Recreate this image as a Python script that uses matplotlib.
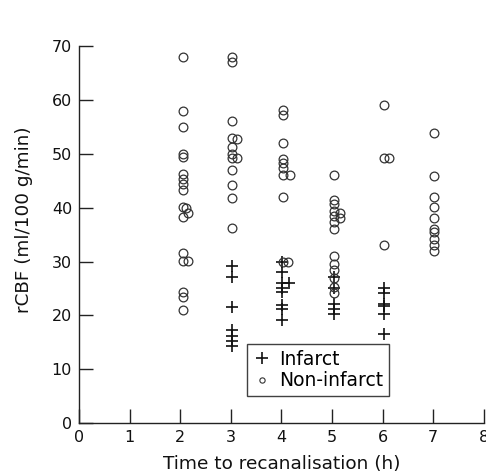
import matplotlib
matplotlib.use("Agg")
import matplotlib.pyplot as plt

plt.rcParams['font.family'] = ['DejaVu Sans']

# Infarct (+)
infarct_x = [3.03, 3.03, 3.03, 3.03, 3.03, 3.03, 3.03,
             4.01, 4.01, 4.01, 4.01, 4.01, 4.01, 4.01, 4.01, 4.15,
             5.04, 5.04, 5.04, 5.04, 5.04,
             6.02, 6.02, 6.02, 6.02, 6.02, 6.02]
infarct_y = [29.1, 27.1, 21.5, 17.3, 16.2, 15.3, 14.4,
             30.0, 28.1, 26.1, 25.1, 24.3, 21.9, 21.2, 19.2, 26.1,
             27.1, 25.1, 22.2, 21.2, 20.2,
             25.1, 24.1, 22.2, 21.7, 20.2, 16.5]

# Non-infarct (o)
noninf_x = [2.06, 2.06, 2.06, 2.06, 2.06, 2.06, 2.06, 2.06, 2.06,
            2.06, 2.12, 2.16, 2.06, 2.06, 2.06, 2.16, 2.06, 2.06, 2.06,
            3.02, 3.02, 3.02, 3.02, 3.13, 3.02, 3.02, 3.02, 3.13, 3.02, 3.02, 3.02, 3.02,
            4.03, 4.03, 4.03, 4.03, 4.03, 4.03, 4.03, 4.16, 4.03, 4.03, 4.13,
            5.04, 5.04, 5.04, 5.04, 5.15, 5.04, 5.15, 5.04, 5.04, 5.04, 5.04, 5.04, 5.04, 5.04, 5.04,
            6.02, 6.02, 6.12, 6.02,
            7.01, 7.01, 7.01, 7.01, 7.01, 7.01, 7.01, 7.01, 7.01, 7.01]
noninf_y = [68.0, 57.9, 55.0, 50.0, 49.4, 46.2, 45.3, 44.4, 43.3,
            40.1, 39.9, 39.0, 38.2, 31.5, 30.2, 30.2, 24.3, 23.4, 21.1,
            68.0, 67.0, 56.0, 53.0, 52.8, 51.2, 50.0, 49.2, 49.2, 47.0, 44.3, 41.8, 36.3,
            58.2, 57.2, 52.0, 49.1, 48.2, 47.4, 46.1, 46.1, 42.0, 30.0, 30.0,
            46.1, 41.5, 40.6, 39.3, 39.1, 38.4, 38.0, 37.3, 36.1, 31.0, 29.5, 28.4, 27.0, 25.2, 24.1,
            59.0, 49.3, 49.3, 33.1,
            53.8, 45.8, 42.0, 40.1, 38.0, 36.1, 35.5, 34.2, 33.0, 31.9]

x_ticks = [0, 1, 2, 3, 4, 5, 6, 7, 8]
y_ticks = [0, 10, 20, 30, 40, 50, 60, 70]

fig = plt.figure(figsize=(4.86, 4.74), dpi=100)
ax = fig.add_axes([0.1626, 0.107, 0.833, 0.796])

ax.plot(infarct_x, infarct_y, linestyle='none', marker='+', markersize=8.5,
        markeredgewidth=1.2, color='#111111', label='Infarct')
ax.plot(noninf_x, noninf_y, linestyle='none', marker='o', markersize=6.3,
        markerfacecolor='none', markeredgewidth=0.9, markeredgecolor='#333333',
        label='Non-infarct')

ax.set_xlim(0, 8)
ax.set_ylim(0, 70)
ax.set_xticks(x_ticks)
ax.set_yticks(y_ticks)
ax.spines['top'].set_visible(False)
ax.spines['right'].set_visible(False)
for s in ('left', 'bottom'):
    ax.spines[s].set_linewidth(1.0)
    ax.spines[s].set_color('#222222')
ax.tick_params(direction='in', length=10, width=1.0, colors='#222222',
               labelsize=11.5, labelcolor='#111111')
ax.tick_params(axis='x', pad=5)
ax.tick_params(axis='y', pad=5)

ax.set_xlabel('Time to recanalisation (h)', fontsize=13.3, color='#111111')
ax.set_ylabel('rCBF (ml/100 g/min)', fontsize=13.2, color='#111111')
ax.xaxis.set_label_coords(0.5, -0.085)
ax.yaxis.set_label_coords(-0.114, 0.539)

leg = ax.legend(loc='upper left', bbox_to_anchor=(0.415, 0.21), borderaxespad=0,
                fancybox=False, frameon=True, fontsize=13.5, handlelength=1.0,
                handletextpad=0.4, borderpad=0.3, labelspacing=0.15)
leg.get_frame().set_edgecolor('#111111')
leg.get_frame().set_linewidth(1.0)
leg.legend_handles[0].set_markersize(8.5)
leg.legend_handles[1].set_markersize(3.8)
leg.legend_handles[1].set_markeredgewidth(0.8)

fig.savefig('out.png', dpi=100)
